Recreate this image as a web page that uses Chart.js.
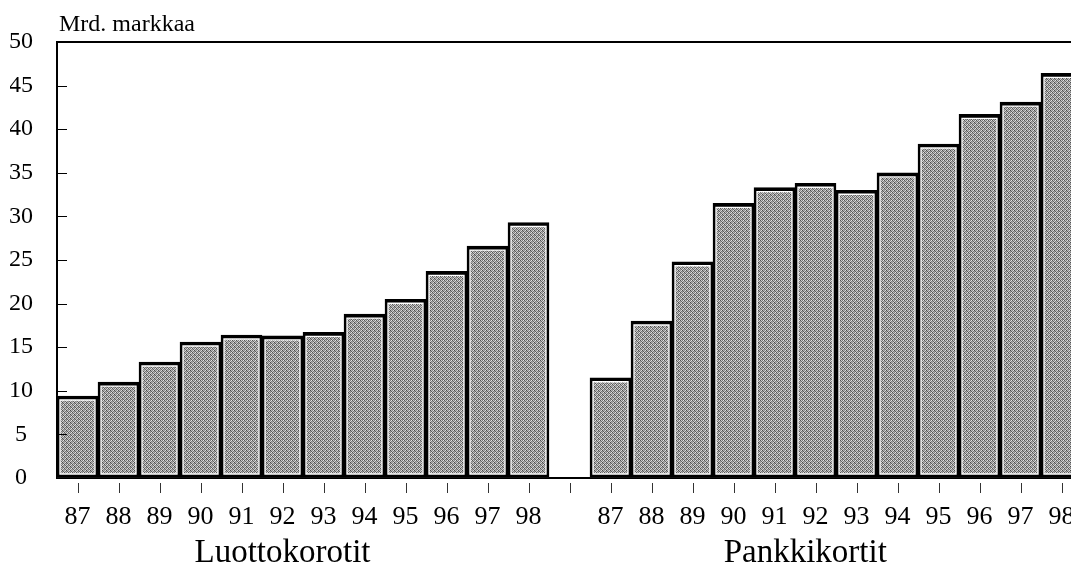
<!DOCTYPE html>
<html>
<head>
<meta charset="utf-8">
<script src="https://cdn.jsdelivr.net/npm/chart.js@4.4.1/dist/chart.umd.min.js"></script>
<style>
  html, body { margin: 0; padding: 0; background: #fff; overflow: hidden; }
  /* the printed plot runs past the right edge of the page, so the canvas is a bit wider and cropped */
  #wrap { width: 1071px; height: 566px; overflow: hidden; }
  #chart { display: block; }
</style>
</head>
<body>
<div id="wrap"><canvas id="chart" width="1082" height="566"></canvas></div>
<script>
// data (Mrd. markkaa)
const years = ["87", "88", "89", "90", "91", "92", "93", "94", "95", "96", "97", "98"];
const luottokorotit = [9.4, 11.0, 13.3, 15.6, 16.4, 16.3, 16.7, 18.8, 20.5, 23.7, 26.6, 29.3];
const pankkikortit = [11.5, 18.0, 24.8, 31.5, 33.3, 33.8, 33.0, 35.0, 38.3, 41.7, 43.1, 46.4];
const groupNames = ["Luottokorotit", "Pankkikortit"];
const yTicks = [0, 5, 10, 15, 20, 25, 30, 35, 40, 45, 50];
const unitLabel = "Mrd. markkaa";

// one empty category between the two groups
const labels = years.concat([""], years);
const values = luottokorotit.concat([null], pankkikortit);

const serif = "'Liberation Serif', 'DejaVu Serif', serif";

// grey stipple like the printed raster
function makeStipple() {
    const c = document.createElement("canvas");
    c.width = 4;
    c.height = 4;
    const g = c.getContext("2d");
    const shades = [
        "#545454", "#c8c8c8", "#7c7c7c", "#e4e4e4",
        "#a6a6a6", "#686868", "#d2d2d2", "#848484",
        "#909090", "#dcdcdc", "#4a4a4a", "#b6b6b6",
        "#cccccc", "#787878", "#a0a0a0", "#5e5e5e"
    ];
    shades.forEach((s, i) => {
        g.fillStyle = s;
        g.fillRect(i % 4, Math.floor(i / 4), 1, 1);
    });
    return g.createPattern(c, "repeat");
}

const decorations = {
    id: "decorations",
    afterDraw(chart) {
        const { ctx, chartArea, scales: { x, y } } = chart;
        ctx.save();
        ctx.strokeStyle = "#000";
        ctx.lineWidth = 1;
        // short inner ticks on the y axis
        yTicks.forEach(v => {
            if (v === 0 || v === 50) return;
            const py = Math.round(y.getPixelForValue(v)) + 0.5;
            ctx.beginPath();
            ctx.moveTo(chartArea.left, py);
            ctx.lineTo(chartArea.left + 10, py);
            ctx.stroke();
        });
        // detached ticks under the x axis
        ctx.strokeStyle = "#333";
        labels.forEach((_, i) => {
            const px = Math.round(x.getPixelForValue(i)) + 0.5;
            ctx.beginPath();
            ctx.moveTo(px, chartArea.bottom + 5);
            ctx.lineTo(px, chartArea.bottom + 15);
            ctx.stroke();
        });
        ctx.fillStyle = "#000";
        ctx.textBaseline = "alphabetic";
        ctx.textAlign = "left";
        ctx.font = "24px " + serif;
        ctx.fillText(unitLabel, chartArea.left + 2, 31);
        ctx.textAlign = "center";
        ctx.font = "33px " + serif;
        ctx.fillText(groupNames[0], x.getPixelForValue(5), 562);
        ctx.fillText(groupNames[1], x.getPixelForValue(17.75), 562);
        ctx.restore();
    }
};

const ctx = document.getElementById("chart").getContext("2d");
const stipple = makeStipple();

new Chart(ctx, {
    type: "bar",
    data: {
        labels: labels,
        datasets: [
            {
                // black outline, drawn on top
                data: values,
                backgroundColor: "rgba(0,0,0,0)",
                borderColor: "#000",
                borderWidth: { top: 3, left: 2, right: 2, bottom: 2 },
                borderSkipped: false,
                barPercentage: 1,
                categoryPercentage: 1,
                grouped: false
            },
            {
                // grey fill with white inner edge
                data: values,
                backgroundColor: stipple,
                borderColor: "#fff",
                borderWidth: { top: 5, left: 4, right: 4, bottom: 4 },
                borderSkipped: false,
                barPercentage: 1,
                categoryPercentage: 1,
                grouped: false
            }
        ]
    },
    options: {
        responsive: false,
        animation: false,
        devicePixelRatio: 1,
        layout: { padding: { left: 10, top: 42, right: 0, bottom: 36 } },
        plugins: {
            legend: { display: false },
            tooltip: { enabled: false },
            title: { display: false }
        },
        scales: {
            x: {
                // tickLength only spaces the labels, the ticks are drawn by the plugin
                grid: { display: false, drawTicks: true, tickLength: 24 },
                border: { display: true, color: "#000", width: 2 },
                ticks: {
                    color: "#000",
                    font: { family: serif, size: 26 },
                    padding: 0,
                    maxRotation: 0,
                    autoSkip: false
                },
                afterFit: scale => { scale.height = 52; }
            },
            y: {
                min: 0,
                max: 50,
                grid: {
                    drawTicks: false,
                    lineWidth: 2,
                    color: c => (c.tick && c.tick.value === 50 ? "#000" : "rgba(0,0,0,0)")
                },
                border: { display: true, color: "#000", width: 2 },
                ticks: {
                    stepSize: 5,
                    color: "#000",
                    font: { family: serif, size: 24 },
                    padding: 24,
                    crossAlign: "center"
                },
                afterFit: scale => { scale.width = 47; }
            }
        }
    },
    plugins: [decorations]
});
</script>
</body>
</html>
